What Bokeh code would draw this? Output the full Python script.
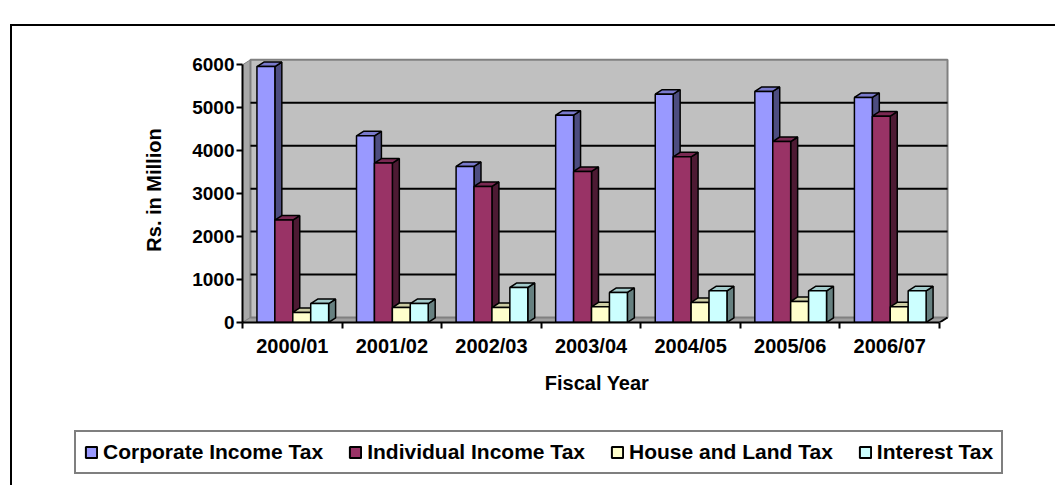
from bokeh.plotting import figure
from bokeh.models import Range1d, FixedTicker, Legend, LegendItem
from bokeh.embed import file_html
from bokeh.resources import INLINE

# ---- data ----
years = ["2000/01", "2001/02", "2002/03", "2003/04", "2004/05", "2005/06", "2006/07"]
series_names = ["Corporate Income Tax", "Individual Income Tax", "House and Land Tax", "Interest Tax"]
corporate = [5960, 4347, 3633, 4828, 5317, 5379, 5239]
individual = [2384, 3711, 3167, 3516, 3858, 4214, 4805]
house_land = [233, 349, 349, 365, 466, 489, 365]
interest = [442, 442, 815, 699, 738, 738, 738]
y_ticks = [0, 1000, 2000, 3000, 4000, 5000, 6000]

front_colors = ["#9999FF", "#993366", "#FFFFCC", "#CCFFFF"]
top_colors = ["#7a7acc", "#7a2952", "#cccca3", "#a3cccc"]
side_colors = ["#4d4d80", "#4d1a33", "#808066", "#668080"]

FONT = "Liberation Sans"

p = figure(width=1045, height=394,
           x_range=Range1d(0, 7.12), y_range=Range1d(0, 6170),
           output_backend="svg", toolbar_location=None,
           min_border_left=230, min_border_right=106,
           min_border_top=31, min_border_bottom=98,
           styles={"margin-left": "10px", "margin-top": "24px",
                   "border-left": "2px solid black", "border-top": "2px solid black"})
p.outline_line_color = None
p.background_fill_color = "white"
p.border_fill_color = "white"
p.xgrid.visible = False
p.ygrid.visible = False

# 3D wall geometry (depth in data units)
wdx, wdy = 0.08, 116
ncat = len(years)

# left side wall
p.patch([0, wdx, wdx, 0], [0, wdy, y_ticks[-1] + wdy, y_ticks[-1]],
        fill_color="#a8a8a8", line_color="#808080", line_width=1)
# floor
p.patch([0, ncat, ncat + wdx, wdx], [0, 0, wdy, wdy],
        fill_color="#a0a0a0", line_color="#808080", line_width=1)
# back wall
p.quad(left=wdx, right=ncat + wdx, bottom=wdy, top=y_ticks[-1] + wdy,
       fill_color="#c0c0c0", line_color="#808080", line_width=2)
# gridlines on back wall
p.segment(x0=[wdx] * 5, y0=[t + wdy for t in y_ticks[1:-1]],
          x1=[ncat + wdx] * 5, y1=[t + wdy for t in y_ticks[1:-1]],
          line_color="black", line_width=2)
# right end floor edge
p.segment(x0=[ncat], y0=[0], x1=[ncat + wdx], y1=[wdy], line_color="black", line_width=2)

# bars
bw = 0.18
dx, dy = 0.07, 105
all_series = [corporate, individual, house_land, interest]
for j, vals in enumerate(all_series):
    x0 = [i + 0.145 + j * bw for i in range(ncat)]
    x1 = [x + bw for x in x0]
    side_xs = [[a, a + dx, a + dx, a] for a in x1]
    side_ys = [[0, dy, v + dy, v] for v in vals]
    p.patches(side_xs, side_ys, fill_color=side_colors[j], line_color="black", line_width=1.5)
    top_xs = [[a, b, b + dx, a + dx] for a, b in zip(x0, x1)]
    top_ys = [[v, v, v + dy, v + dy] for v in vals]
    p.patches(top_xs, top_ys, fill_color=top_colors[j], line_color="black", line_width=1.5)
    p.quad(left=x0, right=x1, bottom=0, top=vals,
           fill_color=front_colors[j], line_color="black", line_width=1.5)

# axes
ya = p.yaxis[0]
ya.ticker = FixedTicker(ticks=y_ticks)
ya.bounds = (0, y_ticks[-1])
ya.axis_line_width = 2
ya.major_tick_line_width = 2
ya.major_tick_out = 6
ya.major_tick_in = 0
ya.minor_tick_line_color = None
ya.major_label_standoff = 2
ya.major_label_text_font = FONT
ya.major_label_text_font_style = "bold"
ya.major_label_text_font_size = "19px"
ya.major_label_text_color = "black"
ya.axis_label = "Rs. in Million"
ya.axis_label_text_font = FONT
ya.axis_label_text_font_style = "bold"
ya.axis_label_text_font_size = "20px"
ya.axis_label_text_color = "black"
ya.axis_label_standoff = 24

xa = p.xaxis[0]
xa.ticker = FixedTicker(ticks=[i + 0.5 for i in range(ncat)], minor_ticks=list(range(ncat + 1)))
xa.major_label_overrides = {i + 0.5: years[i] for i in range(ncat)}
xa.bounds = (0, ncat)
xa.axis_line_width = 2
xa.major_tick_line_color = None
xa.major_tick_out = 6
xa.major_tick_in = 0
xa.minor_tick_line_width = 2
xa.minor_tick_out = 6
xa.minor_tick_in = 0
xa.major_label_standoff = 6
xa.major_label_text_font = FONT
xa.major_label_text_font_style = "bold"
xa.major_label_text_font_size = "20px"
xa.major_label_text_color = "black"
xa.axis_label = "Fiscal Year"
xa.axis_label_text_font = FONT
xa.axis_label_text_font_style = "bold"
xa.axis_label_text_font_size = "20px"
xa.axis_label_text_color = "black"
xa.axis_label_standoff = 12

# ---- legend strip (separate root below the chart) ----
lf = figure(width=1045, height=67, x_range=Range1d(0, 1), y_range=Range1d(0, 1),
            output_backend="svg", toolbar_location=None,
            x_axis_location=None, y_axis_location=None,
            min_border_left=0, min_border_right=0, min_border_top=0, min_border_bottom=0,
            styles={"margin-left": "10px", "border-left": "2px solid black"})
lf.outline_line_color = None
lf.xgrid.visible = False
lf.ygrid.visible = False
lf.border_fill_color = "white"
legend_renderers = []
for j in range(len(series_names)):
    # swatch renderers placed outside the visible range; only used for the legend keys
    legend_renderers.append(lf.quad(left=[2], right=[3], bottom=[2], top=[3],
                                    fill_color=front_colors[j], line_color="black", line_width=2))
legend = Legend(
    items=[LegendItem(label=n, renderers=[r]) for n, r in zip(series_names, legend_renderers)],
    orientation="horizontal", location=(62, 11),
    label_text_font=FONT, label_text_font_size="21px", label_text_font_style="bold",
    label_text_color="black",
    glyph_width=14, glyph_height=14, label_standoff=5, spacing=25, padding=8, margin=0,
    border_line_color="black", border_line_width=2, background_fill_color="white",
    background_fill_alpha=1.0,
)
lf.add_layout(legend)

open("out.html", "w").write(file_html([p, lf], INLINE))
